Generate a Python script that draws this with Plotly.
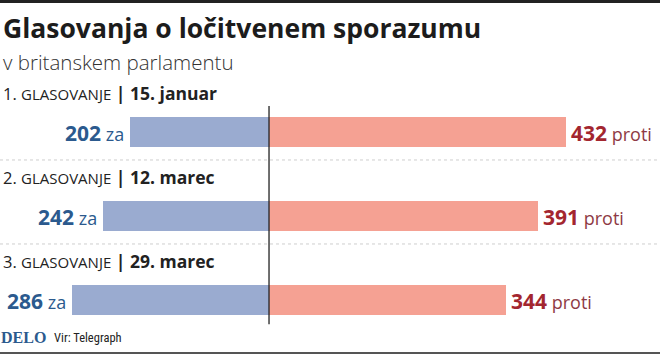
import plotly.graph_objects as go

votes = ["1. glasovanje", "2. glasovanje", "3. glasovanje"]
vote_dates = ["15. januar", "12. marec", "29. marec"]
za = [202, 242, 286]
proti = [432, 391, 344]

BLUE_BAR = "#9aabd0"
RED_BAR = "#f5a193"
BLUE_TXT = "#2b5a8e"
RED_TXT = "#a3262f"
FONT = "Open Sans"

ypos = list(range(len(votes)))

fig = go.Figure()
fig.add_trace(go.Bar(
    y=ypos, x=[-v for v in za], orientation="h",
    marker=dict(color=BLUE_BAR, line=dict(width=0)), width=0.35,
    hoverinfo="skip", showlegend=False,
))
fig.add_trace(go.Bar(
    y=ypos, x=proti, orientation="h",
    marker=dict(color=RED_BAR, line=dict(width=0)), width=0.35,
    hoverinfo="skip", showlegend=False,
))

annotations = []
for i, (lab, d, a, b) in enumerate(zip(votes, vote_dates, za, proti)):
    num, word = lab.split(" ")
    annotations.append(dict(
        x=0, xref="paper", y=i, yref="y", yshift=39, xshift=1,
        xanchor="left", yanchor="middle", showarrow=False,
        text=(f"<span style='font-size:16.5px'>{num} </span>"
              f"<span style='font-size:15px'>{word.upper()}</span>"
              f"<b style='font-size:17.5px'> | {d}</b>"),
        font=dict(family=FONT, size=16, color="#222222"),
    ))
    annotations.append(dict(
        x=-a, xref="x", y=i, yref="y", xanchor="right", yanchor="middle",
        xshift=-4, yshift=-1, showarrow=False,
        text=f"<b style='font-size:21px'>{a}</b> <span style='font-size:18px'>za</span>",
        font=dict(family=FONT, size=18, color=BLUE_TXT),
    ))
    annotations.append(dict(
        x=b, xref="x", y=i, yref="y", xanchor="left", yanchor="middle",
        xshift=3, yshift=-1, showarrow=False,
        text=(f"<b style='font-size:21px'>{b}</b> "
              f"<span style='font-size:18px;color:#8e3a44'>proti</span>"),
        font=dict(family=FONT, size=18, color=RED_TXT),
    ))

# title, subtitle, footer
annotations += [
    dict(x=0, xref="paper", y=1.0, yref="paper", yshift=62, xshift=1,
         xanchor="left", yanchor="middle", showarrow=False,
         text="<b>Glasovanja o ločitvenem sporazumu</b>",
         font=dict(family=FONT, size=26.5, color="#1c1c1c")),
    dict(x=0, xref="paper", y=1.0, yref="paper", yshift=28, xshift=1,
         xanchor="left", yanchor="middle", showarrow=False,
         text="v britanskem parlamentu",
         font=dict(family=FONT, size=20.5, color="#333333", weight=300)),
    dict(x=0, xref="paper", y=0, yref="paper", yshift=5, xshift=-1,
         xanchor="left", yanchor="middle", showarrow=False,
         text="<b>DELO</b>",
         font=dict(family="Liberation Serif", size=16, color=BLUE_TXT)),
    dict(x=0, xref="paper", y=0, yref="paper", yshift=5, xshift=52,
         xanchor="left", yanchor="middle", showarrow=False,
         text="Vir: Telegraph",
         font=dict(family="Liberation Sans Narrow, Roboto Condensed, Roboto", size=12.5, color="#222222")),
]

shapes = [
    # center line
    dict(type="line", xref="x", yref="y", x0=0, x1=0, y0=-0.31, y1=2.29,
         line=dict(color="#222222", width=1.3)),
    # dotted separators
    dict(type="line", xref="paper", yref="y", x0=0, x1=1, y0=0.333, y1=0.333,
         line=dict(color="#cfcfcf", width=1, dash="dot")),
    dict(type="line", xref="paper", yref="y", x0=0, x1=1, y0=1.333, y1=1.333,
         line=dict(color="#cfcfcf", width=1, dash="dot")),
    # top border
    dict(type="rect", xref="paper", yref="paper", x0=0, x1=1, y0=1.345, y1=1.36,
         fillcolor="#222222", line=dict(width=0)),
    # bottom border
    dict(type="rect", xref="paper", yref="paper", x0=0, x1=1, y0=-0.048, y1=-0.040,
         fillcolor="#555555", line=dict(width=0)),
]

fig.update_layout(
    width=660, height=355,
    margin=dict(l=0, r=0, t=90, b=13),
    paper_bgcolor="white", plot_bgcolor="white",
    barmode="relative", bargap=0,
    xaxis=dict(range=[-391.3, 568.7], visible=False, fixedrange=True),
    yaxis=dict(range=[2.5, -0.5], visible=False, fixedrange=True),
    annotations=annotations, shapes=shapes,
    showlegend=False,
)

fig.write_html(
    "out.html",
    config={"displayModeBar": False},
    post_script="document.body.style.margin='0';document.body.style.overflow='hidden';",
)
